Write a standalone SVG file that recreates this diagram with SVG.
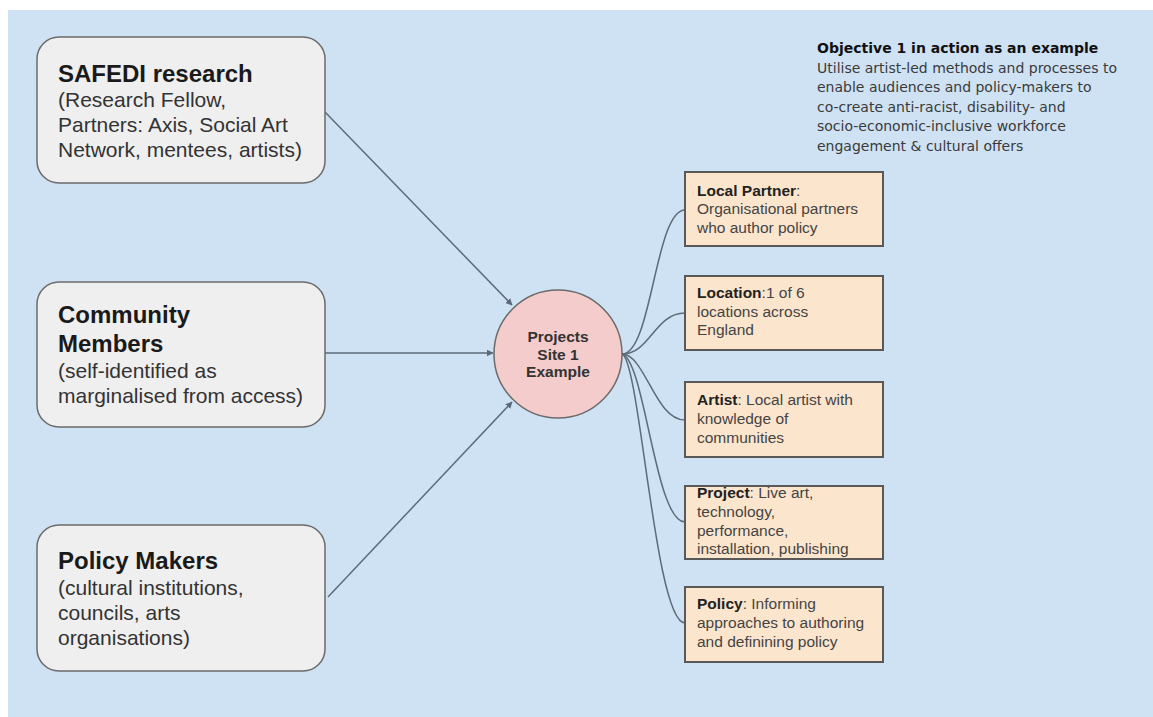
<svg xmlns="http://www.w3.org/2000/svg" width="1153" height="717" viewBox="0 0 1153 717">
<style>
.bg{fill:#cfe2f3}
.src{fill:#efefef;stroke:#6b6b6b;stroke-width:1.5}
.hub{fill:#f4cccc;stroke:#6b6b6b;stroke-width:1.5}
.leaf{fill:#fce5cd;stroke:#595959;stroke-width:2}
.t{font-family:"Liberation Sans",Arial,sans-serif;fill:#222}
.h{font-size:24px;font-weight:bold;fill:#1a1a1a}
.s{font-size:21px;fill:#333}
.c{font-size:15.5px;font-weight:bold;fill:#333;text-anchor:middle}
.l{font-size:15.5px;fill:#444}
.lb{font-weight:bold;fill:#222}
.o{font-family:"DejaVu Sans",Verdana,sans-serif;font-size:14px;fill:#3a3a3a}
.ob{font-weight:bold;fill:#111}
.con{fill:none;stroke:#5c6b7a;stroke-width:1.5}
</style>
<defs>
<marker id="ah" viewBox="0 0 10 10" refX="9" refY="5" markerWidth="7" markerHeight="7" orient="auto" markerUnits="userSpaceOnUse">
<path d="M0,0 L10,5 L0,10 z" fill="#5c6b7a"/>
</marker>
</defs>
<rect width="1153" height="717" fill="#ffffff"/>
<rect class="bg" x="8" y="10" width="1145" height="707"/>

<g id="connectors">
<line class="con" x1="325" y1="112" x2="512" y2="305" marker-end="url(#ah)"/>
<line class="con" x1="325" y1="353" x2="493" y2="353" marker-end="url(#ah)"/>
<line class="con" x1="328" y1="597" x2="512" y2="402" marker-end="url(#ah)"/>
<path class="con" d="M622,354 C652,354 655,210 685,210"/>
<path class="con" d="M622,354 C650,354 655,313 685,313"/>
<path class="con" d="M622,354 C645,354 655,420 685,420"/>
<path class="con" d="M622,354 C645,360 655,522 685,522"/>
<path class="con" d="M622,354 C640,360 655,623 685,623"/>
</g>

<g id="safedi">
<rect class="src" x="37" y="37" width="288" height="146" rx="22"/>
<text class="t h" x="58" y="82">SAFEDI research</text>
<text class="t s" x="58" y="107">(Research Fellow,</text>
<text class="t s" x="58" y="132">Partners: Axis, Social Art</text>
<text class="t s" x="58" y="157">Network, mentees, artists)</text>
</g>

<g id="community">
<rect class="src" x="37" y="282" width="288" height="145" rx="22"/>
<text class="t h" x="58" y="323">Community</text>
<text class="t h" x="58" y="352">Members</text>
<text class="t s" x="58" y="378">(self-identified as</text>
<text class="t s" x="58" y="403">marginalised from access)</text>
</g>

<g id="policymakers">
<rect class="src" x="37" y="525" width="288" height="146" rx="22"/>
<text class="t h" x="58" y="569">Policy Makers</text>
<text class="t s" x="58" y="595">(cultural institutions,</text>
<text class="t s" x="58" y="620">councils, arts</text>
<text class="t s" x="58" y="645">organisations)</text>
</g>

<g id="hub">
<circle class="hub" cx="558" cy="354" r="64"/>
<text class="t c" x="558" y="342">Projects</text>
<text class="t c" x="558" y="360">Site 1</text>
<text class="t c" x="558" y="377">Example</text>
</g>

<g id="localpartner">
<rect class="leaf" x="685" y="172" width="198" height="74"/>
<text class="t l" x="697" y="196"><tspan class="lb">Local Partner</tspan>:</text>
<text class="t l" x="697" y="214">Organisational partners</text>
<text class="t l" x="697" y="233">who author policy</text>
</g>

<g id="location">
<rect class="leaf" x="685" y="276" width="198" height="74"/>
<text class="t l" x="697" y="298"><tspan class="lb">Location</tspan>:1 of 6</text>
<text class="t l" x="697" y="317">locations across</text>
<text class="t l" x="697" y="335">England</text>
</g>

<g id="artist">
<rect class="leaf" x="685" y="382" width="198" height="75"/>
<text class="t l" x="697" y="405"><tspan class="lb">Artist</tspan>: Local artist with</text>
<text class="t l" x="697" y="424">knowledge of</text>
<text class="t l" x="697" y="443">communities</text>
</g>

<g id="project">
<rect class="leaf" x="685" y="486" width="198" height="73"/>
<text class="t l" x="697" y="498"><tspan class="lb">Project</tspan>: Live art,</text>
<text class="t l" x="697" y="517">technology,</text>
<text class="t l" x="697" y="536">performance,</text>
<text class="t l" x="697" y="554">installation, publishing</text>
</g>

<g id="policy">
<rect class="leaf" x="685" y="587" width="198" height="75"/>
<text class="t l" x="697" y="609"><tspan class="lb">Policy</tspan>: Informing</text>
<text class="t l" x="697" y="628">approaches to authoring</text>
<text class="t l" x="697" y="647">and definining policy</text>
</g>

<g id="objective">
<text class="o ob" x="817" y="53">Objective 1 in action as an example</text>
<text class="o" x="817" y="73">Utilise artist-led methods and processes to</text>
<text class="o" x="817" y="92">enable audiences and policy-makers to</text>
<text class="o" x="817" y="112">co-create anti-racist, disability- and</text>
<text class="o" x="817" y="131">socio-economic-inclusive workforce</text>
<text class="o" x="817" y="151">engagement &amp; cultural offers</text>
</g>
</svg>
